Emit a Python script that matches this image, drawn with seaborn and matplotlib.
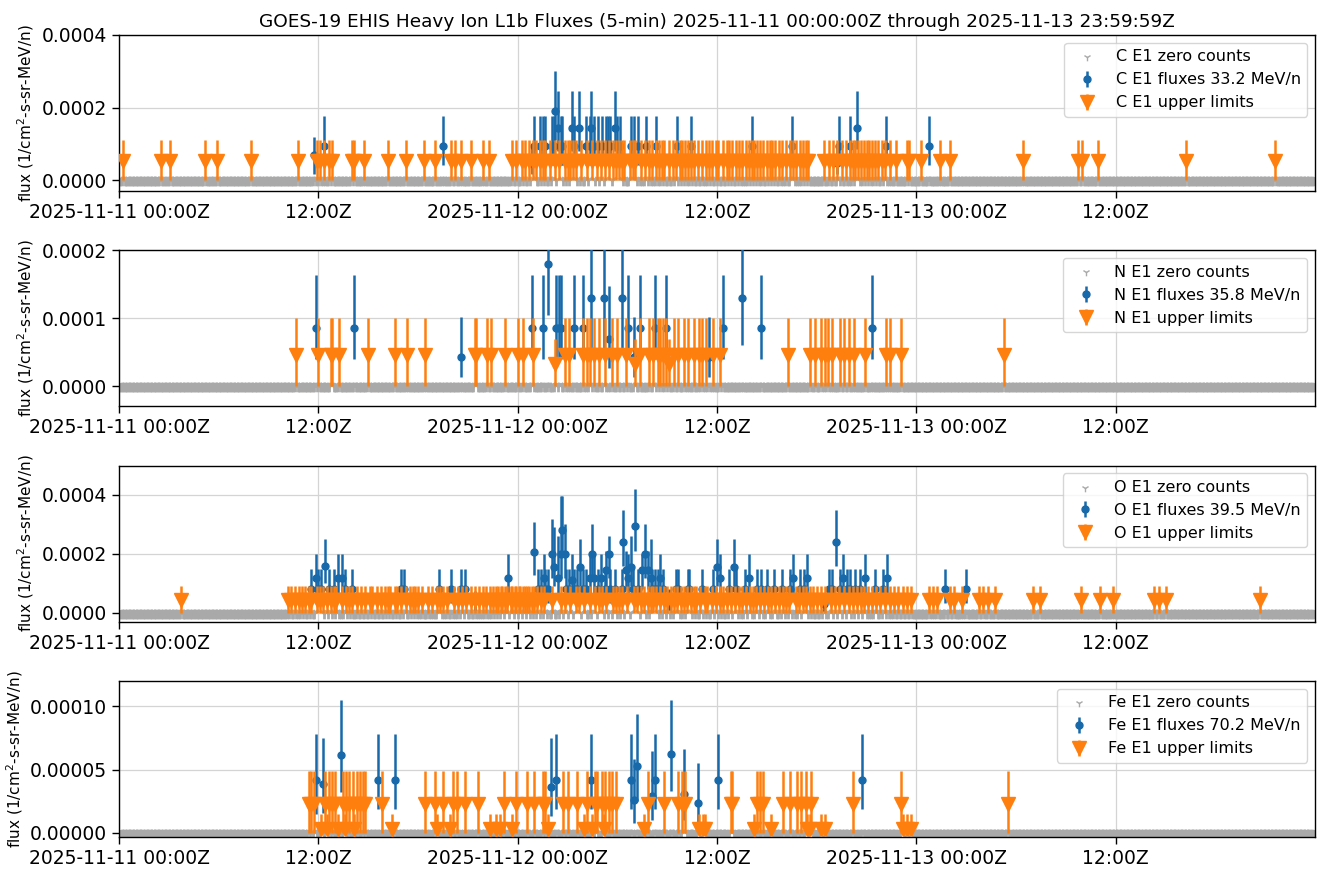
import numpy as np
import pandas as pd
import matplotlib
matplotlib.use("Agg")
import matplotlib.pyplot as plt
import matplotlib.dates as mdates
from matplotlib.ticker import FixedLocator, FixedFormatter, FormatStrFormatter
import seaborn as sns

# ---------------------------------------------------------------------------
# Time base: 5-minute slots counted from the start of the interval
# ---------------------------------------------------------------------------
START = pd.Timestamp("2025-11-11 00:00:00")
N_SLOTS = 864  # three days of 5-minute samples
TITLE = ("GOES-19 EHIS Heavy Ion L1b Fluxes (5-min) "
         "2025-11-11 00:00:00Z through 2025-11-13 23:59:59Z")
tick_hours = [0, 12, 24, 36, 48, 60]
tick_labels = ["2025-11-11 00:00Z", "12:00Z", "2025-11-12 00:00Z",
               "12:00Z", "2025-11-13 00:00Z", "12:00Z"]

# ---------------------------------------------------------------------------
# Carbon E1 (33.2 MeV/n)
# ---------------------------------------------------------------------------
c_energy = 33.2
c_ul_limit = 0.00011
c_ul_mark = 0.000052
c_ul_slots = [3, 30, 37, 62, 71, 95, 129, 143, 145, 148, 152, 154, 168, 170, 177,
              194, 207, 220, 228, 240, 243, 247, 254, 263, 267, 284, 287, 291, 293,
              296, 299, 301, 304, 306, 308, 311, 315, 318, 322, 324, 326, 328, 330,
              334, 338, 342, 345, 348, 351, 354, 357, 359, 361, 363, 365, 369, 371,
              373, 377, 380, 383, 385, 388, 390, 392, 394, 397, 400, 402, 405, 407,
              409, 411, 413, 415, 418, 421, 424, 426, 428, 431, 433, 436, 439, 441,
              443, 446, 448, 450, 453, 455, 457, 459, 461, 463, 465, 468, 470, 472,
              474, 477, 479, 482, 485, 487, 489, 492, 494, 496, 498, 509, 513, 516,
              519, 522, 525, 528, 530, 532, 534, 536, 538, 540, 542, 544, 546, 548,
              551, 553, 557, 561, 569, 571, 579, 593, 600, 653, 693, 696, 707, 771, 835]
c_flux_slots = [141, 148, 234, 298, 300, 304, 306, 308, 313, 314, 315, 317, 319, 320,
                327, 329, 332, 337, 340, 341, 343, 346, 349, 352, 353, 355, 358, 360,
                362, 370, 372, 375, 381, 388, 403, 413, 457, 486, 519, 520, 528, 533,
                554, 585]
c_flux_vals = [7.0e-5, 9.55e-5, 9.55e-5, 4.8e-5, 9.55e-5, 9.55e-5, 9.55e-5, 9.55e-5,
               9.55e-5, 9.55e-5, 1.91e-4, 1.45e-4, 9.55e-5, 9.55e-5, 1.45e-4, 9.55e-5,
               1.45e-4, 9.55e-5, 9.55e-5, 1.45e-4, 9.55e-5, 9.55e-5, 9.55e-5, 9.55e-5,
               9.55e-5, 9.55e-5, 1.45e-4, 9.55e-5, 9.55e-5, 9.55e-5, 9.55e-5, 9.55e-5,
               9.55e-5, 9.55e-5, 9.55e-5, 9.55e-5, 9.55e-5, 9.55e-5, 4.8e-5, 9.55e-5,
               9.55e-5, 1.45e-4, 9.55e-5, 9.55e-5]
c_flux_lo = [1.8e-5, 4.2e-5, 4.2e-5, 1.8e-5, 4.2e-5, 4.2e-5, 4.2e-5, 4.2e-5,
             4.2e-5, 4.2e-5, 1.1e-4, 8.0e-5, 4.2e-5, 4.2e-5, 8.0e-5, 4.2e-5,
             8.0e-5, 4.2e-5, 4.2e-5, 8.0e-5, 4.2e-5, 4.2e-5, 4.2e-5, 4.2e-5,
             4.2e-5, 4.2e-5, 8.0e-5, 4.2e-5, 4.2e-5, 4.2e-5, 4.2e-5, 4.2e-5,
             4.2e-5, 4.2e-5, 4.2e-5, 4.2e-5, 4.2e-5, 4.2e-5, 1.8e-5, 4.2e-5,
             4.2e-5, 8.5e-5, 4.2e-5, 4.2e-5]
c_flux_hi = [1.2e-4, 1.76e-4, 1.76e-4, 1.0e-4, 1.76e-4, 1.76e-4, 1.76e-4, 1.76e-4,
             1.76e-4, 1.76e-4, 3.0e-4, 2.45e-4, 1.76e-4, 1.76e-4, 2.45e-4, 1.76e-4,
             2.45e-4, 1.76e-4, 1.76e-4, 2.45e-4, 1.76e-4, 1.76e-4, 1.76e-4, 1.76e-4,
             1.76e-4, 1.76e-4, 2.45e-4, 1.76e-4, 1.76e-4, 1.76e-4, 1.76e-4, 1.76e-4,
             1.76e-4, 1.76e-4, 1.76e-4, 1.76e-4, 1.76e-4, 1.76e-4, 1.0e-4, 1.76e-4,
             1.76e-4, 2.45e-4, 1.76e-4, 1.76e-4]

# ---------------------------------------------------------------------------
# Nitrogen E1 (35.8 MeV/n)
# ---------------------------------------------------------------------------
n_energy = 35.8
n_ul_limit = 0.0001
n_ul_mark = 0.000046
n_ul_low_limit = 0.00007
n_ul_low_mark = 0.000032
n_ul_slots = [128, 144, 153, 154, 159, 180, 199, 208, 221, 257, 258, 266, 269, 279,
              288, 292, 299, 322, 325, 335, 338, 340, 343, 347, 351, 356, 360, 366,
              376, 383, 386, 389, 391, 393, 395, 401, 404, 408, 411, 415, 419, 421,
              424, 429, 434, 483, 499, 503, 507, 510, 512, 515, 521, 524, 527, 531,
              539, 554, 557, 565, 639]
n_ul_low_slots = [315, 373, 397]
n_flux_slots = [142, 170, 247, 298, 306, 310, 316, 318, 319, 329, 335, 341, 350, 354,
                363, 368, 372, 376, 387, 395, 426, 436, 450, 464, 544]
n_flux_vals = [8.6e-5, 8.6e-5, 4.3e-5, 8.6e-5, 8.6e-5, 1.79e-4, 8.6e-5, 8.6e-5,
               8.6e-5, 8.6e-5, 8.6e-5, 1.3e-4, 1.3e-4, 7.0e-5, 1.3e-4, 8.6e-5,
               4.3e-5, 8.6e-5, 8.6e-5, 8.6e-5, 4.3e-5, 8.6e-5, 1.3e-4, 8.6e-5, 8.6e-5]
n_flux_lo = [4.0e-5, 4.0e-5, 1.3e-5, 4.0e-5, 4.0e-5, 1.05e-4, 4.0e-5, 4.0e-5,
             4.0e-5, 4.0e-5, 4.0e-5, 4.5e-5, 5.0e-5, 2.6e-5, 5.0e-5, 4.0e-5,
             1.3e-5, 4.0e-5, 4.0e-5, 4.0e-5, 1.3e-5, 4.0e-5, 6.0e-5, 4.0e-5, 4.0e-5]
n_flux_hi = [1.64e-4, 1.64e-4, 1.01e-4, 1.64e-4, 1.64e-4, 2.6e-4, 1.64e-4, 1.64e-4,
             1.64e-4, 1.64e-4, 1.64e-4, 2.1e-4, 2.1e-4, 1.47e-4, 2.1e-4, 1.64e-4,
             1.01e-4, 1.64e-4, 1.64e-4, 1.64e-4, 1.01e-4, 1.64e-4, 2.2e-4, 1.64e-4,
             1.64e-4]

# ---------------------------------------------------------------------------
# Oxygen E1 (39.5 MeV/n)
# ---------------------------------------------------------------------------
o_energy = 39.5
o_ul_limit = 0.00009
o_ul_mark = 0.000043
o_ul_slots = [45, 122, 124, 127, 130, 132, 134, 137, 139, 143, 145, 147, 150, 153, 155,
              157, 161, 164, 166, 168, 172, 175, 178, 181, 183, 186, 189, 192, 194,
              196, 199, 201, 204, 207, 210, 212, 214, 216, 219, 223, 226, 230, 232,
              234, 237, 242, 245, 248, 251, 254, 257, 260, 263, 265, 268, 270, 272,
              274, 276, 277, 279, 280, 283, 284, 286, 287, 289, 290, 292, 293, 295,
              296, 298, 300, 302, 305, 307, 313, 319, 322, 326, 330, 332, 336, 340,
              344, 347, 349, 352, 357, 359, 361, 363, 367, 372, 374, 377, 379, 382,
              384, 386, 388, 391, 394, 396, 399, 401, 403, 406, 408, 410, 413, 415,
              417, 420, 423, 425, 428, 431, 434, 436, 439, 442, 445, 448, 450, 453,
              456, 458, 460, 463, 466, 469, 471, 474, 477, 480, 482, 484, 489, 491,
              494, 496, 499, 501, 504, 507, 510, 514, 517, 520, 524, 527, 530, 533,
              536, 538, 541, 544, 547, 550, 553, 557, 560, 563, 566, 569, 572, 585,
              588, 591, 600, 603, 609, 621, 624, 628, 633, 660, 665, 695, 709, 718,
              748, 751, 756, 824]
o_flux_slots = [139, 142, 144, 146, 149, 152, 155, 158, 161, 163, 168, 204, 206, 231,
                240, 247, 250, 257, 281, 300, 303, 305, 307, 308, 310, 313, 314, 317,
                319, 320, 322, 323, 325, 327, 329, 331, 333, 335, 337, 340, 342, 343,
                346, 348, 351, 352, 354, 355, 358, 363, 364, 366, 368, 370, 371, 373,
                375, 378, 380, 382, 384, 385, 387, 389, 391, 393, 397, 402, 404, 411,
                412, 421, 429, 432, 434, 441, 444, 446, 452, 455, 461, 464, 468, 473,
                479, 485, 487, 492, 495, 497, 509, 513, 515, 518, 521, 523, 526, 528,
                532, 535, 539, 546, 552, 555, 597, 612]
o_flux_vals = [8.0e-5, 1.2e-4, 8.0e-5, 8.0e-5, 1.6e-4, 8.0e-5, 8.0e-5, 1.2e-4, 1.2e-4,
               8.0e-5, 8.0e-5, 8.0e-5, 8.0e-5, 8.0e-5, 8.0e-5, 8.0e-5, 8.0e-5, 4.0e-5,
               1.2e-4, 2.08e-4, 8.0e-5, 8.0e-5, 1.2e-4, 8.0e-5, 8.0e-5, 2.0e-4,
               1.57e-4, 1.2e-4, 2.0e-4, 2.82e-4, 2.0e-4, 8.0e-5, 8.0e-5, 1.1e-4,
               8.0e-5, 8.0e-5, 1.57e-4, 8.0e-5, 8.0e-5, 1.2e-4, 2.0e-4, 1.2e-4,
               8.0e-5, 1.2e-4, 8.0e-5, 1.45e-4, 2.0e-4, 8.0e-5, 8.0e-5, 8.0e-5,
               2.42e-4, 1.45e-4, 1.2e-4, 1.57e-4, 8.0e-5, 2.95e-4, 8.0e-5, 1.45e-4,
               2.0e-4, 1.45e-4, 1.2e-4, 8.0e-5, 8.0e-5, 8.0e-5, 1.2e-4, 8.0e-5,
               4.0e-5, 8.0e-5, 8.0e-5, 8.0e-5, 8.0e-5, 8.0e-5, 8.0e-5, 1.57e-4,
               1.2e-4, 8.0e-5, 1.57e-4, 8.0e-5, 8.0e-5, 1.2e-4, 8.0e-5, 8.0e-5,
               8.0e-5, 8.0e-5, 8.0e-5, 8.0e-5, 1.2e-4, 8.0e-5, 8.0e-5, 1.2e-4,
               3.0e-5, 8.0e-5, 8.0e-5, 2.42e-4, 8.0e-5, 1.2e-4, 8.0e-5, 8.0e-5,
               8.0e-5, 8.0e-5, 1.2e-4, 8.0e-5, 8.0e-5, 1.2e-4, 8.0e-5, 8.0e-5]
o_flux_lo = [3.5e-5, 6.0e-5, 3.5e-5, 3.5e-5, 1.0e-4, 3.5e-5, 3.5e-5, 6.0e-5, 6.0e-5,
             3.5e-5, 3.5e-5, 3.5e-5, 3.5e-5, 3.5e-5, 3.5e-5, 3.5e-5, 3.5e-5, 1.0e-5,
             6.0e-5, 1.3e-4, 3.5e-5, 3.5e-5, 6.0e-5, 3.5e-5, 3.5e-5, 1.2e-4,
             9.0e-5, 6.0e-5, 1.2e-4, 2.0e-4, 1.2e-4, 3.5e-5, 3.5e-5, 5.0e-5,
             3.5e-5, 3.5e-5, 9.0e-5, 3.5e-5, 3.5e-5, 6.0e-5, 1.2e-4, 6.0e-5,
             3.5e-5, 6.0e-5, 3.5e-5, 8.0e-5, 1.2e-4, 3.5e-5, 3.5e-5, 3.5e-5,
             1.6e-4, 8.0e-5, 6.0e-5, 9.0e-5, 3.5e-5, 2.1e-4, 3.5e-5, 8.0e-5,
             1.2e-4, 8.0e-5, 6.0e-5, 3.5e-5, 3.5e-5, 3.5e-5, 6.0e-5, 3.5e-5,
             1.0e-5, 3.5e-5, 3.5e-5, 3.5e-5, 3.5e-5, 3.5e-5, 3.5e-5, 9.0e-5,
             6.0e-5, 3.5e-5, 9.0e-5, 3.5e-5, 3.5e-5, 6.0e-5, 3.5e-5, 3.5e-5,
             3.5e-5, 3.5e-5, 3.5e-5, 3.5e-5, 6.0e-5, 3.5e-5, 3.5e-5, 6.0e-5,
             5.0e-6, 3.5e-5, 3.5e-5, 1.6e-4, 3.5e-5, 6.0e-5, 3.5e-5, 3.5e-5,
             3.5e-5, 3.5e-5, 6.0e-5, 3.5e-5, 3.5e-5, 6.0e-5, 3.5e-5, 3.5e-5]
o_flux_hi = [1.48e-4, 2.0e-4, 1.48e-4, 1.48e-4, 2.5e-4, 1.48e-4, 1.48e-4, 2.0e-4, 2.0e-4,
             1.48e-4, 1.48e-4, 1.48e-4, 1.48e-4, 1.48e-4, 1.48e-4, 1.48e-4, 1.48e-4, 7.5e-5,
             2.0e-4, 3.1e-4, 1.48e-4, 1.48e-4, 2.0e-4, 1.48e-4, 1.48e-4, 3.2e-4,
             2.9e-4, 2.6e-4, 3.95e-4, 3.98e-4, 3.0e-4, 1.48e-4, 1.48e-4, 2.0e-4,
             1.48e-4, 1.48e-4, 2.5e-4, 1.48e-4, 1.48e-4, 2.0e-4, 3.0e-4, 2.0e-4,
             1.48e-4, 2.0e-4, 1.48e-4, 2.1e-4, 2.6e-4, 1.48e-4, 1.48e-4, 1.48e-4,
             3.5e-4, 2.1e-4, 2.0e-4, 2.6e-4, 1.48e-4, 4.2e-4, 1.48e-4, 2.0e-4,
             3.0e-4, 2.1e-4, 2.5e-4, 1.48e-4, 1.48e-4, 1.48e-4, 2.0e-4, 1.48e-4,
             8.0e-5, 1.48e-4, 1.48e-4, 1.48e-4, 1.48e-4, 1.48e-4, 1.48e-4, 2.5e-4,
             2.0e-4, 1.48e-4, 2.5e-4, 1.48e-4, 1.48e-4, 2.0e-4, 1.48e-4, 1.48e-4,
             1.48e-4, 1.48e-4, 1.48e-4, 1.48e-4, 2.0e-4, 1.48e-4, 1.48e-4, 2.0e-4,
             6.0e-5, 1.48e-4, 1.48e-4, 3.5e-4, 1.48e-4, 2.0e-4, 1.48e-4, 1.48e-4,
             1.48e-4, 1.48e-4, 2.0e-4, 1.48e-4, 1.48e-4, 2.0e-4, 1.48e-4, 1.48e-4]

# ---------------------------------------------------------------------------
# Iron E1 (70.2 MeV/n)
# ---------------------------------------------------------------------------
fe_energy = 70.2
fe_ul_limit = 0.000049
fe_ul_mark = 0.0000225
fe_ul_low_limit = 0.000015
fe_ul_low_mark = 0.000003
fe_ul_slots = [137, 139, 141, 149, 152, 154, 156, 162, 164, 166, 169, 172, 174, 176,
               178, 190, 221, 228, 234, 241, 244, 250, 259, 278, 287, 295, 300, 306,
               308, 321, 324, 331, 338, 344, 345, 349, 351, 354, 356, 359, 382, 394,
               404, 407, 409, 442, 443, 461, 463, 465, 480, 485, 490, 493, 496, 500,
               530, 565, 642]
fe_ul_low_slots = [146, 150, 158, 163, 170, 197, 230, 239, 268, 272, 275, 284, 310,
                   336, 342, 350, 379, 419, 422, 423, 459, 471, 497, 499, 507, 510,
                   566, 569, 572]
fe_flux_slots = [142, 147, 160, 187, 199, 312, 316, 341, 370, 372, 374, 385, 387, 399,
                 408, 418, 433, 537]
fe_flux_vals = [4.16e-5, 3.85e-5, 6.18e-5, 4.16e-5, 4.16e-5, 3.63e-5, 4.16e-5, 4.16e-5,
                4.16e-5, 2.6e-5, 5.25e-5, 2.9e-5, 4.16e-5, 6.25e-5, 3.05e-5, 2.4e-5,
                4.16e-5, 4.16e-5]
fe_flux_lo = [1.5e-5, 1.6e-5, 3.2e-5, 1.86e-5, 1.86e-5, 1.3e-5, 1.86e-5, 1.86e-5,
              1.86e-5, 8.0e-6, 2.5e-5, 1.0e-5, 1.86e-5, 3.3e-5, 1.0e-5, 7.5e-6,
              1.86e-5, 1.86e-5]
fe_flux_hi = [7.8e-5, 7.5e-5, 1.05e-4, 7.8e-5, 7.8e-5, 7.5e-5, 7.8e-5, 7.8e-5,
              7.8e-5, 5.8e-5, 9.4e-5, 6.5e-5, 7.8e-5, 1.05e-4, 6.6e-5, 5.5e-5,
              7.8e-5, 7.8e-5]

# ---------------------------------------------------------------------------
# Styling
# ---------------------------------------------------------------------------
sns.set_theme(style="ticks")
plt.rcParams["font.family"] = ["DejaVu Sans"]
plt.rcParams["text.color"] = "black"
plt.rcParams["xtick.color"] = "black"
plt.rcParams["ytick.color"] = "black"
plt.rcParams["axes.labelcolor"] = "black"

BLUE = "#1769aa"
ORANGE = "#ff7f0e"
GRAY = "darkgray"


def to_num(slots):
    stamps = START + pd.to_timedelta(np.asarray(slots, dtype=float) * 5, unit="min")
    return mdates.date2num(stamps.to_pydatetime())


panels = [
    dict(el="C", energy=c_energy,
         ul=[(c_ul_slots, c_ul_mark, c_ul_limit)],
         flux=(c_flux_slots, c_flux_vals, c_flux_lo, c_flux_hi),
         ylim=(-0.00003, 0.0004), yticks=[0.0, 0.0002, 0.0004], fmt="%.4f"),
    dict(el="N", energy=n_energy,
         ul=[(n_ul_slots, n_ul_mark, n_ul_limit),
             (n_ul_low_slots, n_ul_low_mark, n_ul_low_limit)],
         flux=(n_flux_slots, n_flux_vals, n_flux_lo, n_flux_hi),
         ylim=(-0.00003, 0.0002), yticks=[0.0, 0.0001, 0.0002], fmt="%.4f"),
    dict(el="O", energy=o_energy,
         ul=[(o_ul_slots, o_ul_mark, o_ul_limit)],
         flux=(o_flux_slots, o_flux_vals, o_flux_lo, o_flux_hi),
         ylim=(-0.00003, 0.0005), yticks=[0.0, 0.0002, 0.0004], fmt="%.4f"),
    dict(el="Fe", energy=fe_energy,
         ul=[(fe_ul_slots, fe_ul_mark, fe_ul_limit),
             (fe_ul_low_slots, fe_ul_low_mark, fe_ul_low_limit)],
         flux=(fe_flux_slots, fe_flux_vals, fe_flux_lo, fe_flux_hi),
         ylim=(-0.0000032, 0.00012), yticks=[0.0, 0.00005, 0.0001], fmt="%.5f"),
]

fig, axes = plt.subplots(4, 1, figsize=(13.17, 8.73), dpi=100)
fig.subplots_adjust(left=0.0904, right=0.9985, top=0.960, bottom=0.0412, hspace=0.378)

x0 = to_num([0])[0]
x1 = to_num([N_SLOTS])[0]
xticks = to_num(np.array(tick_hours) * 12)

for ax, p in zip(axes, panels):
    el = p["el"]
    f_slots, f_vals, f_lo, f_hi = p["flux"]

    # every slot without a flux or an upper limit had zero counts
    used = set(f_slots)
    for slots, _, _ in p["ul"]:
        used.update(slots)
    zero_slots = [s for s in range(N_SLOTS) if s not in used]
    zero_df = pd.DataFrame({"t": to_num(zero_slots), "flux": np.zeros(len(zero_slots))})

    sns.scatterplot(data=zero_df, x="t", y="flux", ax=ax, marker="1", s=70,
                    color=GRAY, linewidth=2.0, legend=False,
                    label=f"{el} E1 zero counts", zorder=2)

    fv = np.asarray(f_vals)
    yerr = [fv - np.asarray(f_lo), np.asarray(f_hi) - fv]
    ax.errorbar(to_num(f_slots), fv, yerr=yerr, fmt="o", ms=5, color=BLUE,
                ecolor=BLUE, elinewidth=1.8, capsize=0, zorder=3,
                label=f"{el} E1 fluxes {p['energy']} MeV/n")

    ul_t, ul_y, ul_lo, ul_hi = [], [], [], []
    for slots, mark, limit in p["ul"]:
        ul_t.extend(to_num(slots))
        ul_y.extend([mark] * len(slots))
        ul_lo.extend([mark] * len(slots))
        ul_hi.extend([limit - mark] * len(slots))
    ax.errorbar(ul_t, ul_y, yerr=[ul_lo, ul_hi], fmt="v", ms=10, color=ORANGE,
                ecolor=ORANGE, elinewidth=1.8, capsize=0, zorder=4,
                label=f"{el} E1 upper limits")

    ax.set_xlim(x0, x1)
    ax.set_ylim(*p["ylim"])
    ax.xaxis.set_major_locator(FixedLocator(xticks))
    ax.xaxis.set_major_formatter(FixedFormatter(tick_labels))
    ax.yaxis.set_major_locator(FixedLocator(p["yticks"]))
    ax.yaxis.set_major_formatter(FormatStrFormatter(p["fmt"]))
    ax.tick_params(axis="both", labelsize=13.5, length=5, width=1, color="black",
                   labelcolor="black")
    ax.grid(True, color="#d4d4d4", linewidth=0.9)
    ax.set_axisbelow(True)
    for sp in ax.spines.values():
        sp.set_color("black")
        sp.set_linewidth(1.0)
    ax.set_xlabel("")
    ax.set_ylabel("flux (1/cm$^2$-s-sr-MeV/n)", fontsize=11, color="black")
    leg = ax.legend(loc="upper right", fontsize=11.5, framealpha=0.8,
                    edgecolor="#cccccc", fancybox=True)
    for txt in leg.get_texts():
        txt.set_color("black")
    # keep the zero-count key marker small
    zero_handle = leg.legend_handles[0]
    zero_handle.set_sizes([30])
    zero_handle.set_linewidth(1.0)

axes[0].set_title(TITLE, fontsize=13.3, pad=6, color="black")

fig.savefig("out.png", dpi=100)
